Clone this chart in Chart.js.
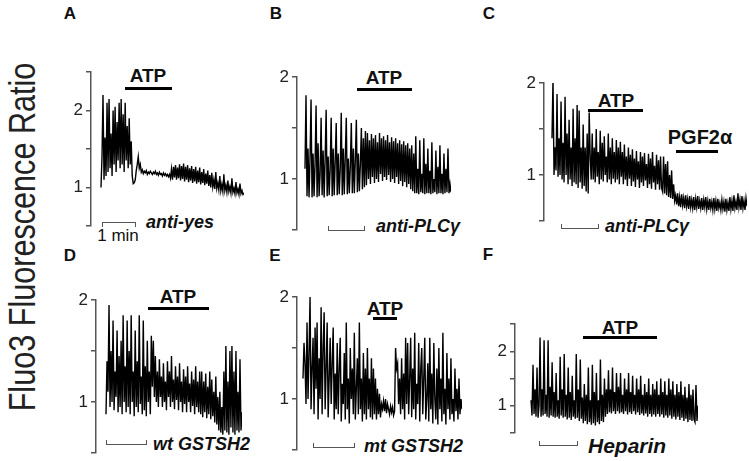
<!DOCTYPE html>
<html>
<head>
<meta charset="utf-8">
<script src="https://cdn.jsdelivr.net/npm/chart.js@4.4.1/dist/chart.umd.min.js"></script>
<style>
body { margin: 0; background: #fff; width: 749px; height: 461px; position: relative; overflow: hidden;
       font-family: "Liberation Sans", Arial, sans-serif; color: #111; }
canvas { position: absolute; }
.t { position: absolute; white-space: nowrap; line-height: 1; }
.c { transform: translate(-50%, -50%); }
.l { transform: translateY(-50%); }
.b { font-weight: bold; }
.lt { font-weight: bold; font-size: 17px; }
.bi { font-weight: bold; font-style: italic; font-size: 18px; }
.bar { position: absolute; background: #000; height: 3px; }
.up { position: absolute; height: 4px; border: 1px solid #555; border-top: none; }
.down { position: absolute; height: 4px; border: 1px solid #555; border-bottom: none; }
</style>
</head>
<body>

<!-- titre de l'axe et lettres des panneaux -->
<div class="t" style="left:22px;top:237px;font-size:30px;color:#222;transform:translate(-50%,-50%) rotate(-90deg) scale(1.02,1.25);">Fluo3 Fluorescence Ratio</div>
<div class="t c lt" style="left:70px;top:13px;">A</div>
<div class="t c lt" style="left:276px;top:13px;">B</div>
<div class="t c lt" style="left:489px;top:13px;">C</div>
<div class="t c lt" style="left:70px;top:255px;">D</div>
<div class="t c lt" style="left:275px;top:255px;">E</div>
<div class="t c lt" style="left:488px;top:254px;">F</div>

<!-- barres ATP / PGF2a -->
<div class="t c b" style="left:148px;top:75px;font-size:19px;">ATP</div>
<div class="bar" style="left:125px;top:87px;width:47px;"></div>
<div class="t c b" style="left:384px;top:77px;font-size:19px;">ATP</div>
<div class="bar" style="left:357px;top:88px;width:55px;"></div>
<div class="t c b" style="left:616px;top:100px;font-size:19px;">ATP</div>
<div class="bar" style="left:588px;top:109px;width:55px;"></div>
<div class="t c b" style="left:700px;top:137px;font-size:20px;">PGF2α</div>
<div class="bar" style="left:676px;top:150px;width:42px;"></div>
<div class="t c b" style="left:178px;top:296px;font-size:19px;">ATP</div>
<div class="bar" style="left:148px;top:307px;width:61px;"></div>
<div class="t c b" style="left:385px;top:308px;font-size:19px;">ATP</div>
<div class="bar" style="left:373px;top:317px;width:24px;"></div>
<div class="t c b" style="left:620px;top:327px;font-size:19px;">ATP</div>
<div class="bar" style="left:583px;top:336px;width:74px;"></div>

<!-- echelles de temps et conditions -->
<div class="down" style="left:102px;top:222px;width:32px;"></div>
<div class="t c" style="left:118px;top:235px;font-size:17px;">1 min</div>
<div class="t l bi" style="left:146px;top:222px;">anti-yes</div>
<div class="up" style="left:328px;top:226px;width:35px;"></div>
<div class="t l bi" style="left:376px;top:226px;">anti-PLCγ</div>
<div class="up" style="left:561px;top:224px;width:36px;"></div>
<div class="t l bi" style="left:605px;top:226px;">anti-PLCγ</div>
<div class="up" style="left:106px;top:440px;width:39px;"></div>
<div class="t l bi" style="left:153px;top:444px;">wt GSTSH2</div>
<div class="up" style="left:313px;top:443px;width:40px;"></div>
<div class="t l bi" style="left:364px;top:446px;">mt GSTSH2</div>
<div class="up" style="left:539px;top:441px;width:37px;"></div>
<div class="t l bi" style="left:588px;top:445px;font-size:21px;">Heparin</div>

<script>
// Fluo3 ratio, un point par pixel environ
const traceA = [
  1.0, 1.4, 2.2, 1.1, 1.65, 1.15, 2.1, 1.2, 2.15, 1.25, 1.7, 1.15, 2.0, 1.3, 2.05, 1.2,
  1.85, 1.35, 2.1, 1.25, 2.15, 1.3, 1.95, 1.2, 2.1, 1.35, 1.8, 1.25, 1.9, 1.3, 1.6, 1.15,
  1.05, 1.06, 1.1, 1.22, 1.3, 1.4, 1.25, 1.3,
  1.2, 1.23, 1.18, 1.21, 1.19, 1.22, 1.17, 1.2, 1.18, 1.21, 1.19, 1.17, 1.2, 1.18, 1.21, 1.17,
  1.19, 1.16, 1.2, 1.17, 1.18, 1.15, 1.19, 1.16, 1.18, 1.15, 1.17, 1.14, 1.17,
  1.12, 1.24, 1.1, 1.27, 1.13, 1.29, 1.1, 1.26, 1.12, 1.3, 1.09, 1.28, 1.11, 1.31, 1.08, 1.27,
  1.1, 1.29, 1.07, 1.25, 1.09, 1.28, 1.06, 1.24, 1.08, 1.27, 1.05, 1.22, 1.07, 1.26, 1.04, 1.2,
  1.06, 1.24, 1.03, 1.18, 1.05, 1.22, 1.02, 1.16,
  1.0, 1.19, 1.01, 1.1, 0.98, 1.2, 0.99, 1.06, 0.97, 1.15, 0.96, 1.04, 0.95, 1.17, 0.96, 1.03,
  0.94, 1.09, 0.95, 1.01, 0.93, 1.12, 0.94, 0.99, 0.92, 1.07, 0.93, 0.98, 0.91, 1.05, 0.92, 0.96,
  0.91, 0.93
];
const traceB = [
  1.1, 1.82, 0.83, 1.3, 0.82, 1.2, 1.78, 0.82, 1.25, 0.83, 1.15, 1.72, 0.82, 1.35, 0.83,
  1.05, 1.6, 0.84, 1.28, 0.82, 1.2, 1.68, 0.83, 1.22, 0.84, 1.1, 1.6, 0.83, 1.3, 0.84,
  1.18, 1.55, 0.84, 1.25, 0.85, 1.1, 1.65, 0.84, 1.3, 0.85, 1.22, 1.6, 0.85, 1.2, 0.86,
  1.12, 1.55, 0.86, 1.3, 0.86, 1.2, 1.58, 0.87, 1.25, 0.88, 1.15, 1.5, 0.9, 1.4, 0.92,
  1.47, 0.94, 1.45, 1.0, 1.38, 0.95, 1.44, 1.02, 1.4, 0.96, 1.43, 1.0, 1.36, 0.97, 1.45, 1.05,
  1.4, 0.98, 1.42, 1.02, 1.38, 0.99, 1.43, 1.04, 1.36, 0.97, 1.41, 1.0, 1.37, 0.96, 1.4, 1.02,
  1.35, 0.95, 1.38, 0.98, 1.34, 0.93, 1.37, 0.97, 1.33, 0.92, 1.35, 0.95, 1.3, 0.9, 1.33, 0.88,
  1.25, 0.86,
  1.42, 0.86, 1.1, 0.85, 1.38, 0.87, 1.05, 0.86, 1.4, 0.85, 1.15, 0.86, 1.3, 0.86, 1.08, 0.85,
  1.36, 0.86, 1.0, 0.87, 1.28, 0.85, 1.12, 0.86, 1.33, 0.86, 1.05, 0.85, 1.25, 0.86, 1.1, 0.87,
  1.3, 0.86, 0.95, 0.87
];
const traceC = [
  1.4, 2.05, 1.0, 1.3, 1.05, 1.88, 0.98, 1.4, 1.0, 1.8, 0.95, 1.35, 0.92, 1.85, 1.0, 1.45,
  0.9, 1.6, 0.95, 1.3, 0.88, 1.72, 0.92, 1.4, 0.9, 1.76, 0.86, 1.7, 0.92, 1.3, 0.85, 1.55,
  0.88, 1.3, 0.82, 1.45,
  0.8, 1.68, 1.2, 0.95,
  1.45, 0.95, 1.3, 0.92, 1.5, 0.98, 1.25, 0.9, 1.48, 0.95, 1.35, 0.93, 1.42, 1.0, 1.2, 0.92,
  1.45, 0.95, 1.3, 0.9, 1.4, 0.96, 1.25,
  0.92, 1.38, 0.95, 1.3, 0.9, 1.36, 0.98, 1.25, 0.9, 1.33, 0.95, 1.2, 0.88, 1.3, 0.96, 1.22,
  0.88, 1.28, 0.93, 1.18, 0.87, 1.26, 0.95, 1.15, 0.86, 1.25, 0.92, 1.2, 0.88, 1.24, 0.94, 1.12,
  0.86, 1.23, 0.9, 1.18, 0.85, 1.25, 0.92, 1.1, 0.84, 1.22, 0.9, 1.16, 0.84, 1.2, 0.86,
  0.82, 1.2, 0.8, 1.12, 0.78, 1.15, 0.76, 1.0, 0.75, 1.05, 0.74, 0.9, 0.72,
  0.78, 0.68, 0.8, 0.66, 0.76, 0.65, 0.79, 0.67, 0.75, 0.64, 0.78, 0.66, 0.74, 0.63, 0.77, 0.65,
  0.73, 0.64, 0.76, 0.62, 0.74, 0.65, 0.77, 0.63, 0.72, 0.64, 0.75, 0.62, 0.73, 0.65, 0.76, 0.63,
  0.72, 0.62, 0.74, 0.64, 0.71, 0.62, 0.75, 0.63, 0.72, 0.61, 0.74, 0.64, 0.7, 0.62, 0.73, 0.63,
  0.71, 0.6, 0.74, 0.62, 0.7, 0.61, 0.76, 0.63, 0.72, 0.61, 0.78, 0.64, 0.71, 0.62, 0.8, 0.65,
  0.73, 0.62, 0.77, 0.64, 0.72, 0.62, 0.75, 0.66
];
const traceD = [
  0.88, 1.4, 1.1, 1.95, 0.95, 1.5, 1.0, 1.8, 0.92, 1.3, 1.05, 1.7, 0.9, 1.45, 0.95, 1.6,
  0.88, 1.85, 1.0, 1.35, 0.9, 1.8, 0.95, 1.5, 0.88, 1.85, 1.0, 1.3, 0.86, 1.7, 0.95, 1.4,
  0.9, 1.85, 0.98, 1.25, 0.88, 1.8, 0.92, 1.35, 0.86, 1.6, 1.0, 1.3, 0.88, 1.65,
  1.15, 1.6, 1.05, 1.45, 1.0, 1.3, 0.95, 1.42, 1.05, 1.25, 0.95, 1.38, 1.0, 1.2, 0.92, 1.4,
  1.05, 1.3, 0.95, 1.45, 1.0, 1.22, 0.93, 1.35, 1.02, 1.25, 0.92, 1.38, 1.0, 1.2, 0.9, 1.32,
  0.98, 1.25, 0.9, 1.35, 1.0, 1.18, 0.9, 1.3, 0.96, 1.22, 0.88, 1.35, 0.95, 1.2, 0.9, 1.3,
  0.88, 1.3, 0.85, 1.2, 0.9, 1.28, 0.84, 1.15, 0.88, 1.3, 0.83, 1.22, 0.86, 1.1, 0.8, 1.25,
  0.78, 1.05,
  0.72, 1.1, 0.7, 0.95, 0.68, 1.3, 0.72, 1.55, 0.7, 1.2, 0.68, 1.5, 0.75, 1.55, 0.7, 1.3,
  0.68, 1.5, 0.72, 1.1, 0.7, 1.42, 0.72, 0.9
];
const traceE = [
  1.2, 1.55, 1.35, 0.95, 1.75, 1.0, 1.45, 2.0, 0.9, 1.3, 1.6, 0.85, 1.7, 1.1, 1.75, 0.8,
  1.4, 1.0, 1.9, 0.85, 1.5, 1.85, 0.9, 1.3, 1.75, 0.82, 1.2, 1.6, 0.95, 1.35, 1.7, 0.8,
  1.25, 0.9, 1.55, 0.85, 1.3, 1.6, 0.78, 1.15, 0.95, 1.45, 0.8, 1.75, 0.9, 1.2, 0.76, 1.5,
  1.0, 1.3, 0.85, 1.65, 0.8, 1.1, 1.4, 0.85, 1.75, 0.9, 1.2, 0.78, 1.45, 0.85, 1.3, 0.8,
  1.5, 0.9, 1.2,
  0.82, 1.4, 0.8, 1.3, 0.85, 1.2, 0.8, 1.1, 0.85, 1.05, 0.82, 0.95,
  0.9, 0.98, 0.88, 1.0, 0.86, 0.95, 0.9, 0.85, 0.93, 0.87, 0.92, 0.84, 0.88,
  1.5, 1.3, 1.35, 0.95, 1.2, 0.85, 1.4, 0.9, 1.25, 0.8, 1.6, 0.95, 1.55, 0.85, 1.2, 1.6,
  0.82, 1.3, 0.9, 1.65, 0.8, 1.15, 0.95, 1.55, 0.78, 1.3, 1.5, 0.85, 1.2, 1.6, 0.8, 1.0,
  1.35, 0.78, 1.6, 0.9, 1.25, 0.76, 1.55, 1.0, 0.8, 1.3, 0.75, 1.5, 0.9, 1.2, 0.78, 1.65,
  0.85, 1.1, 0.75, 1.45, 0.9, 1.2, 0.8, 1.4, 0.85, 1.0, 0.78, 1.3, 0.88, 1.1, 0.8, 1.2,
  0.85, 1.0, 0.9
];
const traceF = [
  1.1, 0.82, 1.75, 0.85, 1.3, 0.8, 1.7, 0.78, 1.0, 2.25, 0.8, 1.3, 0.82, 2.2, 0.85, 1.2,
  0.8, 2.2, 0.78, 1.35, 0.82, 1.8, 0.8, 1.25, 0.78, 1.6, 0.8, 1.1, 0.76, 1.9, 0.82, 1.3,
  0.78, 1.95, 0.8, 1.2, 0.75, 1.7, 0.78, 1.25, 0.74, 1.55, 0.8, 1.1, 0.76, 1.95, 0.78, 1.3,
  0.72, 1.85, 0.76, 1.15, 0.68, 1.4, 0.72, 1.2, 0.66, 1.7, 0.7, 1.1, 0.65, 1.75, 0.68, 1.25,
  0.64, 1.6, 0.7, 1.1, 0.66, 1.85, 0.72, 1.2, 0.7, 1.5, 0.8, 1.3,
  0.85, 1.65, 0.88, 1.3, 0.86, 1.7, 0.9, 1.25, 0.85, 1.6, 0.9, 1.35, 0.86, 1.6, 0.88, 1.2,
  0.85, 1.5, 0.9, 1.3, 0.84, 1.6, 0.88, 1.25, 0.85, 1.55, 0.9, 1.2, 0.84, 1.5, 0.88, 1.3,
  0.83, 1.55, 0.86, 1.2, 0.82, 1.4, 0.86, 1.25, 0.8, 1.5, 0.85, 1.2, 0.8, 1.4, 0.84, 1.3,
  0.8, 1.45, 0.85, 1.2, 0.8, 1.5, 0.84, 1.25, 0.78, 1.45, 0.82, 1.2, 0.78, 1.5, 0.82, 1.3,
  0.76, 1.45, 0.8, 1.2, 0.75, 1.4, 0.8, 1.25, 0.74, 1.45, 0.78, 1.2, 0.72, 1.35, 0.76, 1.15,
  0.7, 1.4, 0.74, 1.2, 0.72, 1.3, 0.75, 0.7, 1.38, 0.72, 1.0
];

const tickValues = [0.5, 1, 1.5, 2, 2.5];

// ou se trouve chaque panneau sur la page (px)
const panels = [
  { data: traceA, yMin: 0.5, yMax: 2.5, axisX: 91,  top: 72,  bottom: 226, x0: 101, x1: 244 },
  { data: traceB, yMin: 0.5, yMax: 2.0, axisX: 297, top: 77,  bottom: 230, x0: 305, x1: 451 },
  { data: traceC, yMin: 0.5, yMax: 2.0, axisX: 544, top: 83,  bottom: 221, x0: 552, x1: 747 },
  { data: traceD, yMin: 0.5, yMax: 2.0, axisX: 96,  top: 300, bottom: 453, x0: 106, x1: 242 },
  { data: traceE, yMin: 0.5, yMax: 2.0, axisX: 297, top: 297, bottom: 450, x0: 303, x1: 462 },
  { data: traceF, yMin: 0.5, yMax: 2.5, axisX: 515, top: 324, bottom: 433, x0: 531, x1: 698 }
];

panels.forEach(function (p) {
    const canvas = document.createElement("canvas");
    const left = p.axisX - 40;
    const top = p.top - 14;
    const w = p.x1 - left + 2;
    const h = p.bottom - p.top + 28;
    canvas.width = w;
    canvas.height = h;
    canvas.style.left = left + "px";
    canvas.style.top = top + "px";
    canvas.style.width = w + "px";
    canvas.style.height = h + "px";
    document.body.appendChild(canvas);

    const n = p.data.length;
    // espace entre l'axe et le debut de la trace, en points
    const lead = (p.x0 - p.axisX) / (p.x1 - p.x0) * (n - 1);

    new Chart(canvas, {
        type: "line",
        data: {
            datasets: [{
                data: p.data.map(function (v, i) { return { x: i, y: v }; }),
                borderColor: "#000",
                borderWidth: 1.4,
                pointRadius: 0,
                tension: 0
            }]
        },
        options: {
            responsive: false,
            animation: false,
            devicePixelRatio: 1,
            events: [],
            layout: { padding: { top: 14, bottom: 14, left: 0, right: 2 } },
            plugins: { legend: { display: false }, tooltip: { enabled: false } },
            scales: {
                x: { type: "linear", display: false, min: -lead, max: n - 1 },
                y: {
                    min: p.yMin,
                    max: p.yMax,
                    afterFit: function (s) { s.width = 40; },
                    afterBuildTicks: function (s) {
                        s.ticks = tickValues.filter(function (v) { return v <= p.yMax; })
                                            .map(function (v) { return { value: v }; });
                    },
                    ticks: {
                        autoSkip: false,
                        padding: 3,
                        color: "#222",
                        font: { family: '"Liberation Sans", Arial, sans-serif', size: 17 },
                        callback: function (v) { return Number.isInteger(v) ? String(v) : ""; }
                    },
                    grid: { drawOnChartArea: false, tickLength: 5, color: "#555", lineWidth: 1.5 },
                    border: { color: "#555", width: 1.5 }
                }
            }
        }
    });
});
</script>
</body>
</html>
